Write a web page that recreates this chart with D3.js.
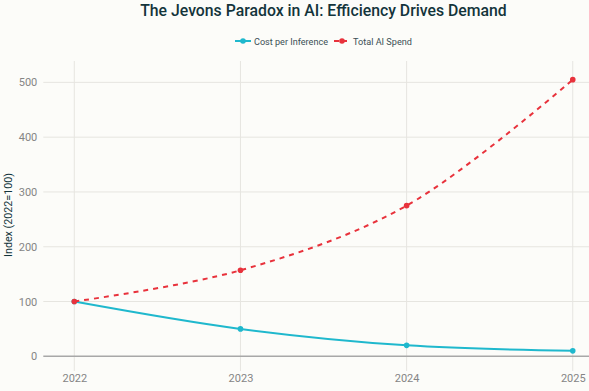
<!DOCTYPE html>
<html><head><meta charset="utf-8">
<script src="https://cdn.jsdelivr.net/npm/d3@7"></script>
<style>
html,body{margin:0;padding:0;background:#FCFCF9;}
svg{display:block;font-family:Roboto,"Liberation Sans",sans-serif;}
</style></head>
<body>
<svg id="chart" width="589" height="391"></svg>
<script>
const years = ["2022","2023","2024","2025"];
const costPerInference = [100, 50, 20, 10];
const totalAISpend = [100, 157, 275, 505];
const yTicks = [0, 100, 200, 300, 400, 500];
const seriesNames = ["Cost per Inference", "Total AI Spend"];
const seriesColors = ["#1FB8CD", "#E8323C"];

const FONT = "Roboto, 'Liberation Sans', sans-serif";
const svg = d3.select("#chart");
const W = 589, H = 391;
const plot = {left: 43.3, right: 604, top: 61, bottom: 371};

const x = d3.scaleLinear().domain([2021.8134, 2025.188]).range([plot.left, plot.right]);
const y = d3.scaleLinear().domain([-26.8, 539]).range([plot.bottom, plot.top]);

// shrink/grow font so a text spans a given width
function fitWidth(sel, target, base) {
  sel.attr("font-size", base);
  const w = sel.node().getComputedTextLength();
  if (w > 0) sel.attr("font-size", base * target / w);
}

svg.append("rect").attr("width", W).attr("height", H).attr("fill", "#FCFCF9");

// gridlines
const g = svg.append("g");
g.selectAll(".vg").data(years).enter().append("line")
  .attr("x1", d => x(+d)).attr("x2", d => x(+d))
  .attr("y1", plot.top).attr("y2", plot.bottom)
  .attr("stroke", "#E6E5E0").attr("stroke-width", 1);
g.selectAll(".hg").data(yTicks.filter(d => d !== 0)).enter().append("line")
  .attr("x1", plot.left).attr("x2", plot.right)
  .attr("y1", d => y(d)).attr("y2", d => y(d))
  .attr("stroke", "#E6E5E0").attr("stroke-width", 1);
// zero line
g.append("line").attr("x1", plot.left).attr("x2", plot.right)
  .attr("y1", y(0)).attr("y2", y(0))
  .attr("stroke", "#A8A8A8").attr("stroke-width", 1.5);

// axes (tick labels)
const yAxis = d3.axisLeft(y).tickValues(yTicks).tickSize(0).tickPadding(6);
svg.append("g").attr("transform", `translate(${plot.left},0)`).call(yAxis)
  .call(s => s.select(".domain").remove())
  .call(s => s.selectAll("text").attr("fill", "#858585").attr("font-size", 11).attr("font-family", FONT));
const xAxis = d3.axisBottom(x).tickValues(years.map(Number)).tickFormat(d3.format("d")).tickSize(0).tickPadding(0);
svg.append("g").attr("transform", `translate(0,${plot.bottom + 3})`).call(xAxis)
  .call(s => s.select(".domain").remove())
  .call(s => s.selectAll("text").attr("fill", "#858585").attr("font-size", 11).attr("font-family", FONT));

// y title
const yt = svg.append("text").attr("transform", `translate(11.5,215) rotate(-90)`)
  .attr("text-anchor", "middle").attr("fill", "#13343B")
  .text("Index (2022=100)");
fitWidth(yt, 84, 12);

// lines
const line = d3.line().x((d, i) => x(+years[i])).y(d => y(d)).curve(d3.curveCatmullRom.alpha(0.5));

const data = [costPerInference, totalAISpend];
data.forEach((vals, k) => {
  svg.append("path").datum(vals).attr("d", line)
    .attr("fill", "none").attr("stroke", seriesColors[k]).attr("stroke-width", 2)
    .attr("stroke-dasharray", k === 1 ? "5,5" : null);
  svg.selectAll(".m" + k).data(vals).enter().append("circle")
    .attr("cx", (d, i) => x(+years[i])).attr("cy", d => y(d)).attr("r", 2.8)
    .attr("fill", seriesColors[k]);
});

// title
const title = svg.append("text").attr("x", 323.5).attr("y", 15.5).attr("text-anchor", "middle")
  .attr("font-weight", 500).attr("fill", "#13343B")
  .text("The Jevons Paradox in AI: Efficiency Drives Demand");
fitWidth(title, 367, 17);

// legend
const leg = svg.append("g");
const legItems = [{x: 235, tx: 254, w: 74}, {x: 334, tx: 353, w: 59}];
seriesNames.forEach((n, k) => {
  const it = legItems[k];
  leg.append("line").attr("x1", it.x).attr("x2", it.x + 16).attr("y1", 41).attr("y2", 41)
    .attr("stroke", seriesColors[k]).attr("stroke-width", 2)
    .attr("stroke-dasharray", k === 1 ? "5,3" : null);
  leg.append("circle").attr("cx", it.x + 8).attr("cy", 41).attr("r", 2.8).attr("fill", seriesColors[k]);
  const t = leg.append("text").attr("x", it.tx).attr("y", 45).attr("fill", "#3B4F55").text(n);
  fitWidth(t, it.w, 11);
});
</script>
</body></html>
